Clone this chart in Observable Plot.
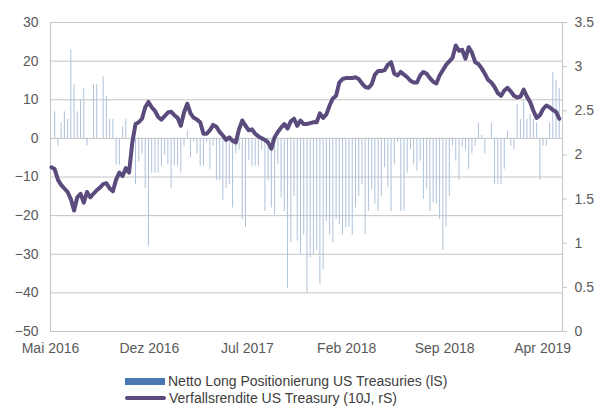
<!DOCTYPE html>
<html><head><meta charset="utf-8">
<script src="https://cdn.jsdelivr.net/npm/d3@7"></script>
<script src="https://cdn.jsdelivr.net/npm/@observablehq/plot@0.6"></script>
<style>
body{margin:0;background:#fff;font-family:"Liberation Sans",Arial,sans-serif;}
#chart{width:608px;position:relative;}
#legend{position:relative;width:608px;height:46px;font-size:14px;color:#404040;}
.item{position:absolute;left:125px;height:14px;display:flex;align-items:center;white-space:nowrap;}
.sw{display:inline-block;margin-right:3px;}
</style></head><body>
<div id="chart"></div>
<div id="legend"></div>
<script>
// ---- data ----
const firstWeek = "2016-05-03"; // weekly observations
const netLong = [
 0, 6.9, -2, 3.9, 6.9, 4.9, 22.9, 13.9, 6.9, 9.9,
 12.8, -2, 0, 13.9, 13.9, 0, 15.9, 10.9, 4.9, 4.9,
 -6.9, -6.9, 2.9, 4.9, 0, 0, -12, -6, -4, -13,
 -28, -9, -9, -9, -7.2, -4.3, -6.8, -13, -7.2, -7.2,
 -9, -2, 1.9, -5, -1, -4, -7.2, -7.2, -1, -8,
 -2, -10.9, -10.9, -16, -13, -12, -18, -4, -3, -21,
 -23, -5.7, -7.2, -7.2, -7.2, -3, -18.9, -11, -18, -19.9,
 -6.8, -15.4, -18.9, -38.8, -27, -15, -26.6, -30, -25, -40,
 -30.9, -30, -29, -37.9, -34, -21.5, -25, -27, -21, -22.3,
 -25, -23.2, -23, -25, -18, -15, -12, -25, -18.9, -13.2,
 -17, -18.9, -15, -7.6, -12.8, -19, -6.9, -1, -18.9, -18.9,
 -9, -2.9, -6.9, -8.5, -5.9, -15.8, -13.2, -19, -16.7, -17,
 -21, -29, -23, -15, -2, -5.9, -10.9, -2.4, -3.1, -8,
 -4, -2, 3.9, 0.8, -4, 0, 3.9, -12, -12, -12,
 -8, 1.9, -2, -2.9, 8.8, 4.9, 9.9, 4.9, 6.2, 4.9,
 4, -10.9, -2, -2, 3.9, 17, 14.9, 12.8
];
const yield10 = [
 1.86, 1.84, 1.72, 1.66, 1.62, 1.58, 1.50, 1.37, 1.52, 1.56,
 1.46, 1.58, 1.52, 1.56, 1.60, 1.63, 1.67, 1.68, 1.62, 1.59,
 1.72, 1.80, 1.76, 1.85, 1.80, 2.14, 2.35, 2.37, 2.41, 2.54,
 2.60, 2.54, 2.50, 2.43, 2.40, 2.44, 2.48, 2.49, 2.45, 2.42,
 2.33, 2.48, 2.58, 2.47, 2.42, 2.40, 2.37, 2.24, 2.24, 2.28,
 2.34, 2.32, 2.26, 2.22, 2.17, 2.20, 2.16, 2.14, 2.29, 2.39,
 2.33, 2.28, 2.29, 2.24, 2.21, 2.19, 2.17, 2.14, 2.07, 2.20,
 2.26, 2.31, 2.35, 2.30, 2.38, 2.41, 2.33, 2.39, 2.35, 2.35,
 2.36, 2.37, 2.37, 2.47, 2.42, 2.46, 2.56, 2.64, 2.67, 2.82,
 2.86, 2.87, 2.87, 2.87, 2.88, 2.86, 2.81, 2.77, 2.76, 2.80,
 2.91, 2.95, 2.95, 2.96, 3.02, 3.05, 2.92, 2.90, 2.94, 2.91,
 2.88, 2.84, 2.82, 2.82, 2.90, 2.94, 2.92, 2.87, 2.83, 2.81,
 2.90, 2.96, 3.02, 3.06, 3.10, 3.24, 3.18, 3.19, 3.09, 3.22,
 3.16, 3.05, 3.03, 2.98, 2.92, 2.85, 2.82, 2.77, 2.70, 2.67,
 2.73, 2.76, 2.72, 2.67, 2.65, 2.66, 2.74, 2.66, 2.60, 2.50,
 2.42, 2.45, 2.52, 2.56, 2.54, 2.51, 2.49, 2.41
];
const leftTicks = [-50, -40, -30, -20, -10, 0, 10, 20, 30];
const rightTicks = [0, 0.5, 1, 1.5, 2, 2.5, 3, 3.5];
const rightTickLabels = ["0", "0.5", "1", "1.5", "2", "2.5", "3", "3.5"];
const xTickDates = ["2016-05-01", "2016-12-01", "2017-07-01", "2018-02-01", "2018-09-01", "2019-04-01"];
const xTickLabels = ["Mai 2016", "Dez 2016", "Jul 2017", "Feb 2018", "Sep 2018", "Apr 2019"];
const seriesNames = ["Netto Long Positionierung US Treasuries (lS)", "Verfallsrendite US Treasury (10J, rS)"];
const colors = {bar: "#4a78b0", barThin: "#aec2da", line: "#5b4a7c", grid: "#c4c4c4", text: "#595959"};

// ---- build ----
const leftMin = -50, leftMax = 30, rightMin = 0, rightMax = 3.5;
const toLeft = v => leftMin + (v - rightMin) * (leftMax - leftMin) / (rightMax - rightMin);
const start = new Date(firstWeek + "T00:00:00Z");
const rows = netLong.map((v, i) => ({date: d3.utcDay.offset(start, 7 * i), net: v, yld: yield10[i]}));
const xDomain = [new Date("2016-05-01T00:00:00Z"), new Date("2019-05-14T00:00:00Z")];
const xTicks = xTickDates.map(s => new Date(s + "T00:00:00Z"));
const xLab = new Map(xTicks.map((d, i) => [+d, xTickLabels[i]]));
const rTicks = rightTicks.map(toLeft);
const rLab = new Map(rTicks.map((d, i) => [d.toFixed(4), rightTickLabels[i]]));

const chart = Plot.plot({
  width: 608, height: 362,
  marginLeft: 50, marginRight: 46, marginTop: 22, marginBottom: 31,
  style: {fontFamily: "'Liberation Sans', Arial, sans-serif", fontSize: "14px", color: colors.text, background: "#fff"},
  x: {type: "utc", domain: xDomain},
  y: {domain: [leftMin, leftMax]},
  marks: [
    Plot.gridY(leftTicks, {stroke: colors.grid, strokeOpacity: 1, strokeWidth: 1}),
    Plot.frame({stroke: colors.grid, strokeWidth: 1}),
    Plot.ruleX(rows, {x: "date", y1: 0, y2: "net", stroke: colors.barThin, strokeWidth: 1}),
    Plot.lineY(rows, {x: "date", y: d => toLeft(d.yld), stroke: colors.line, strokeWidth: 4, strokeLinejoin: "round", strokeLinecap: "round"}),
    Plot.axisY(leftTicks, {anchor: "left", tickSize: 0, tickPadding: 12, label: null, fill: colors.text}),
    Plot.axisY(rTicks, {anchor: "right", tickSize: 4, tickPadding: 8, stroke: colors.grid, label: null, fill: colors.text,
      tickFormat: d => rLab.get(d.toFixed(4))}),
    Plot.axisX(xTicks, {anchor: "bottom", tickSize: 0, tickPadding: 12, label: null, fill: colors.text,
      tickFormat: d => xLab.get(+d)})
  ]
});
document.getElementById("chart").appendChild(chart);

// ---- legend ----
const lg = document.getElementById("legend");
const it1 = document.createElement("div");
it1.className = "item"; it1.style.top = "12px";
it1.innerHTML = `<span class="sw" style="width:40px;height:7px;background:${colors.bar}"></span><span>${seriesNames[0]}</span>`;
const it2 = document.createElement("div");
it2.className = "item"; it2.style.top = "29px";
it2.innerHTML = `<span class="sw" style="width:41px;height:4px;border-radius:2px;background:${colors.line}"></span><span>${seriesNames[1]}</span>`;
lg.appendChild(it1); lg.appendChild(it2);
</script>
</body></html>
